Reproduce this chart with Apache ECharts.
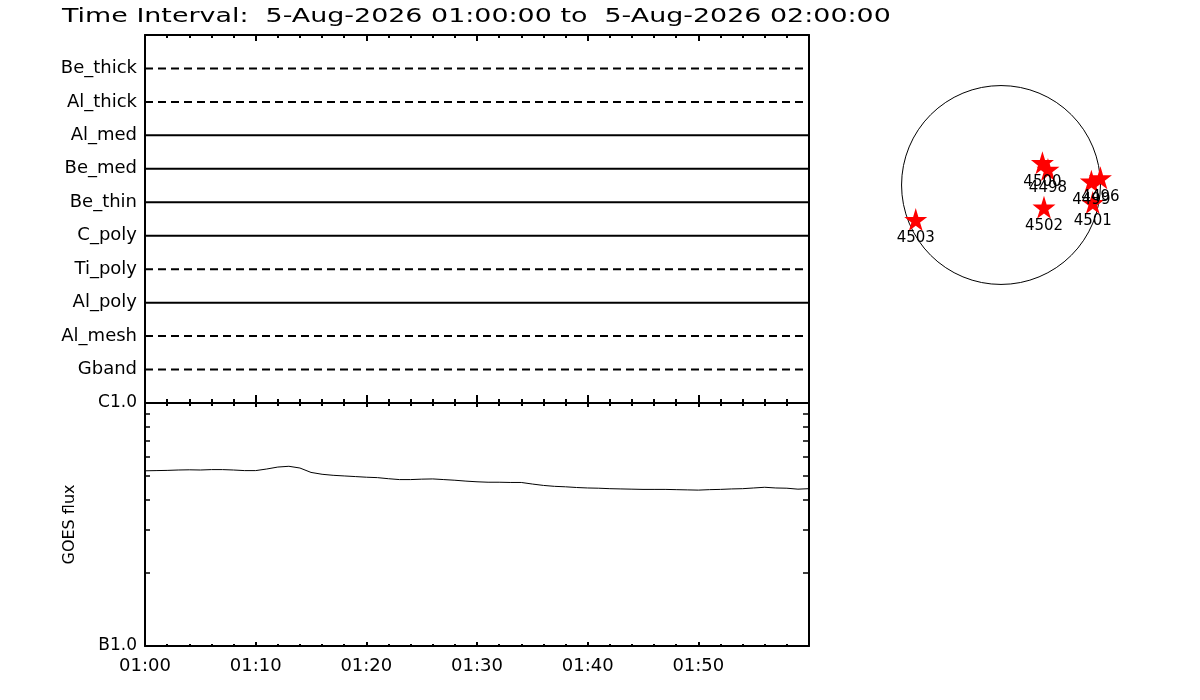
<!DOCTYPE html>
<html>
<head>
<meta charset="utf-8">
<title>Time Interval</title>
<script src="https://cdn.jsdelivr.net/npm/echarts@6/dist/echarts.min.js"></script>
<style>
  html, body { margin: 0; padding: 0; background: #fff; }
  #chart { width: 1200px; height: 700px; }
</style>
</head>
<body>
<div id="chart"></div>
<script>
// Filter rows, top to bottom
var filterNames = ['Be_thick', 'Al_thick', 'Al_med', 'Be_med', 'Be_thin', 'C_poly', 'Ti_poly', 'Al_poly', 'Al_mesh', 'Gband'];
var filterDashed = [true, true, false, false, false, false, true, false, true, true];

// GOES flux, minutes after 01:00
var goesMinutes = [0, 1, 2, 3, 4, 5, 6, 7, 8, 9, 10, 11, 12, 13, 14, 15, 16, 17, 18, 19,
  20, 21, 22, 23, 24, 25, 26, 27, 28, 29, 30, 31, 32, 33, 34, 35, 36, 37, 38, 39,
  40, 41, 42, 43, 44, 45, 46, 47, 48, 49, 50, 51, 52, 53, 54, 55, 56, 57, 58, 59, 60];
var goesFlux = [5.26e-7, 5.27e-7, 5.28e-7, 5.30e-7, 5.31e-7, 5.30e-7, 5.32e-7, 5.32e-7, 5.30e-7, 5.27e-7,
  5.27e-7, 5.35e-7, 5.45e-7, 5.49e-7, 5.40e-7, 5.18e-7, 5.09e-7, 5.04e-7, 5.01e-7, 4.98e-7,
  4.95e-7, 4.93e-7, 4.88e-7, 4.84e-7, 4.84e-7, 4.86e-7, 4.87e-7, 4.84e-7, 4.81e-7, 4.77e-7,
  4.74e-7, 4.72e-7, 4.72e-7, 4.71e-7, 4.71e-7, 4.64e-7, 4.58e-7, 4.54e-7, 4.52e-7, 4.49e-7,
  4.47e-7, 4.46e-7, 4.44e-7, 4.43e-7, 4.42e-7, 4.41e-7, 4.41e-7, 4.41e-7, 4.40e-7, 4.39e-7,
  4.38e-7, 4.40e-7, 4.41e-7, 4.43e-7, 4.44e-7, 4.47e-7, 4.50e-7, 4.47e-7, 4.46e-7, 4.42e-7, 4.44e-7];

// x axis ticks (minutes) and GOES class ticks
var timeLabels = ['01:00', '01:10', '01:20', '01:30', '01:40', '01:50', ''];
var goesTickValues = [1e-7, 2e-7, 3e-7, 4e-7, 5e-7, 6e-7, 7e-7, 8e-7, 9e-7, 1e-6];
var goesLabelValues = [1e-7, 1e-6];
var goesLabelText = ['B1.0', 'C1.0'];

// active regions on the disk (arcsec)
var arNames = ['4503', '4502', '4500', '4498', '4499', '4496', '4501'];
var arX = [-817, 412, 397, 450, 866, 953, 879];
var arY = [-331, -213, 213, 149, 36, 69, -168];
var solarRadius = 953;

var starPath = 'path://M50,0 L61,35 L98,35 L68,57 L79,91 L50,70 L21,91 L32,57 L2,35 L39,35 Z';
var font = 'DejaVu Sans';

var chartDom = document.getElementById('chart');
var myChart = echarts.init(chartDom, null, { renderer: 'canvas' });

var filterSeries = filterNames.map(function (name, i) {
  var pos = filterNames.length - i;
  return {
    name: name,
    type: 'line',
    xAxisIndex: 0,
    yAxisIndex: 0,
    showSymbol: false,
    silent: true,
    data: [[0, pos], [60, pos]],
    lineStyle: { color: '#000', width: 2, type: filterDashed[i] ? [8, 5] : 'solid' }
  };
});

function timeFormatter(v) {
  return timeLabels[Math.round(v / 10)] || '';
}

var frameLine = { show: true, onZero: false, lineStyle: { color: '#000', width: 2 } };

var option = {
  animation: false,
  backgroundColor: '#fff',
  textStyle: { fontFamily: font, color: '#000' },
  grid: [
    { left: 145, top: 35, width: 664, height: 368 },
    { left: 145, top: 403, width: 664, height: 243 },
    { left: 881, top: 65, width: 240, height: 240 }
  ],
  xAxis: [
    // top panel, top edge
    { type: 'value', gridIndex: 0, position: 'top', min: 0, max: 60, interval: 10,
      axisLine: frameLine, axisLabel: { show: false }, splitLine: { show: false },
      axisTick: { show: true, inside: true, length: 6, lineStyle: { width: 2, color: '#000' } },
      minorTick: { show: true, splitNumber: 5, length: 3, lineStyle: { width: 2, color: '#000' } } },
    // top panel, bottom edge
    { type: 'value', gridIndex: 0, position: 'bottom', min: 0, max: 60, interval: 10,
      axisLine: frameLine, axisLabel: { show: false }, splitLine: { show: false },
      axisTick: { show: true, inside: true, length: 8, lineStyle: { width: 2, color: '#000' } },
      minorTick: { show: true, splitNumber: 5, length: 4, lineStyle: { width: 2, color: '#000' } } },
    // GOES panel, top edge
    { type: 'value', gridIndex: 1, position: 'top', min: 0, max: 60, interval: 10,
      axisLine: frameLine, axisLabel: { show: false }, splitLine: { show: false },
      axisTick: { show: true, inside: true, length: 4, lineStyle: { width: 2, color: '#000' } },
      minorTick: { show: true, splitNumber: 5, length: 3, lineStyle: { width: 2, color: '#000' } } },
    // GOES panel, bottom edge with time labels
    { type: 'value', gridIndex: 1, position: 'bottom', min: 0, max: 60, interval: 10,
      axisLine: frameLine, splitLine: { show: false },
      axisLabel: { show: true, margin: 11, fontSize: 18, fontFamily: font, color: '#000', formatter: timeFormatter },
      axisTick: { show: true, inside: true, length: 4, lineStyle: { width: 2, color: '#000' } },
      minorTick: { show: true, splitNumber: 5, length: 2, lineStyle: { width: 2, color: '#000' } } },
    // disk
    { type: 'value', gridIndex: 2, min: -1150, max: 1150, show: false }
  ],
  yAxis: [
    { type: 'value', gridIndex: 0, position: 'left', min: 0, max: 11, interval: 1,
      axisLine: frameLine, axisTick: { show: false }, splitLine: { show: false },
      axisLabel: { fontSize: 18, fontFamily: font, color: '#000', margin: 8,
        formatter: function (v) { return (v >= 1 && v <= 10) ? filterNames[10 - v] : ''; } } },
    { type: 'value', gridIndex: 0, position: 'right', min: 0, max: 11,
      axisLine: frameLine, axisTick: { show: false }, axisLabel: { show: false }, splitLine: { show: false } },
    { type: 'log', gridIndex: 1, position: 'left', min: 1e-7, max: 1e-6, logBase: 10,
      axisLine: frameLine, splitLine: { show: false },
      name: 'GOES flux', nameLocation: 'middle', nameRotate: 90, nameGap: 67,
      nameTextStyle: { fontSize: 16, fontFamily: font, color: '#000' },
      axisTick: { show: true, inside: true, length: 5, customValues: goesTickValues, lineStyle: { width: 1.5, color: '#000' } },
      axisLabel: { fontSize: 17, fontFamily: font, color: '#000', margin: 8, customValues: goesLabelValues,
        formatter: function (v) { return v > 5e-7 ? goesLabelText[1] : goesLabelText[0]; } } },
    { type: 'log', gridIndex: 1, position: 'right', min: 1e-7, max: 1e-6, logBase: 10,
      axisLine: frameLine, splitLine: { show: false }, axisLabel: { show: false },
      axisTick: { show: true, inside: true, length: 6, customValues: goesTickValues, lineStyle: { width: 1.5, color: '#000' } } },
    { type: 'value', gridIndex: 2, min: -1150, max: 1150, show: false }
  ],
  graphic: [
    { type: 'text', left: 62, top: 7, scaleX: 1.345,
      style: { text: 'Time Interval:  5-Aug-2026 01:00:00 to  5-Aug-2026 02:00:00',
        font: '20px "DejaVu Sans"', fill: '#000' } }
  ],
  series: filterSeries.concat([
    {
      name: 'GOES',
      type: 'line',
      xAxisIndex: 3,
      yAxisIndex: 2,
      showSymbol: false,
      silent: true,
      data: goesMinutes.map(function (m, i) { return [m, goesFlux[i]]; }),
      lineStyle: { color: '#000', width: 1 }
    },
    {
      name: 'AR',
      type: 'scatter',
      xAxisIndex: 4,
      yAxisIndex: 4,
      symbol: starPath,
      symbolSize: 23,
      itemStyle: { color: '#ff0000', opacity: 1 },
      label: { show: true, position: 'bottom', distance: 0, fontSize: 15, fontFamily: font, color: '#000',
        formatter: function (p) { return arNames[p.dataIndex]; } },
      data: arX.map(function (x, i) { return [x, arY[i]]; })
    }
  ])
};

myChart.setOption(option);

// solar limb, placed through the disk grid's own scale
var c = myChart.convertToPixel({ gridIndex: 2 }, [0, 0]);
var edge = myChart.convertToPixel({ gridIndex: 2 }, [solarRadius, 0]);
var titleEl = option.graphic[0];
myChart.setOption({
  graphic: [
    titleEl,
    { type: 'circle', shape: { cx: c[0], cy: c[1], r: edge[0] - c[0] }, z: 1,
      style: { fill: 'none', stroke: '#000', lineWidth: 1 } }
  ]
});
</script>
</body>
</html>
